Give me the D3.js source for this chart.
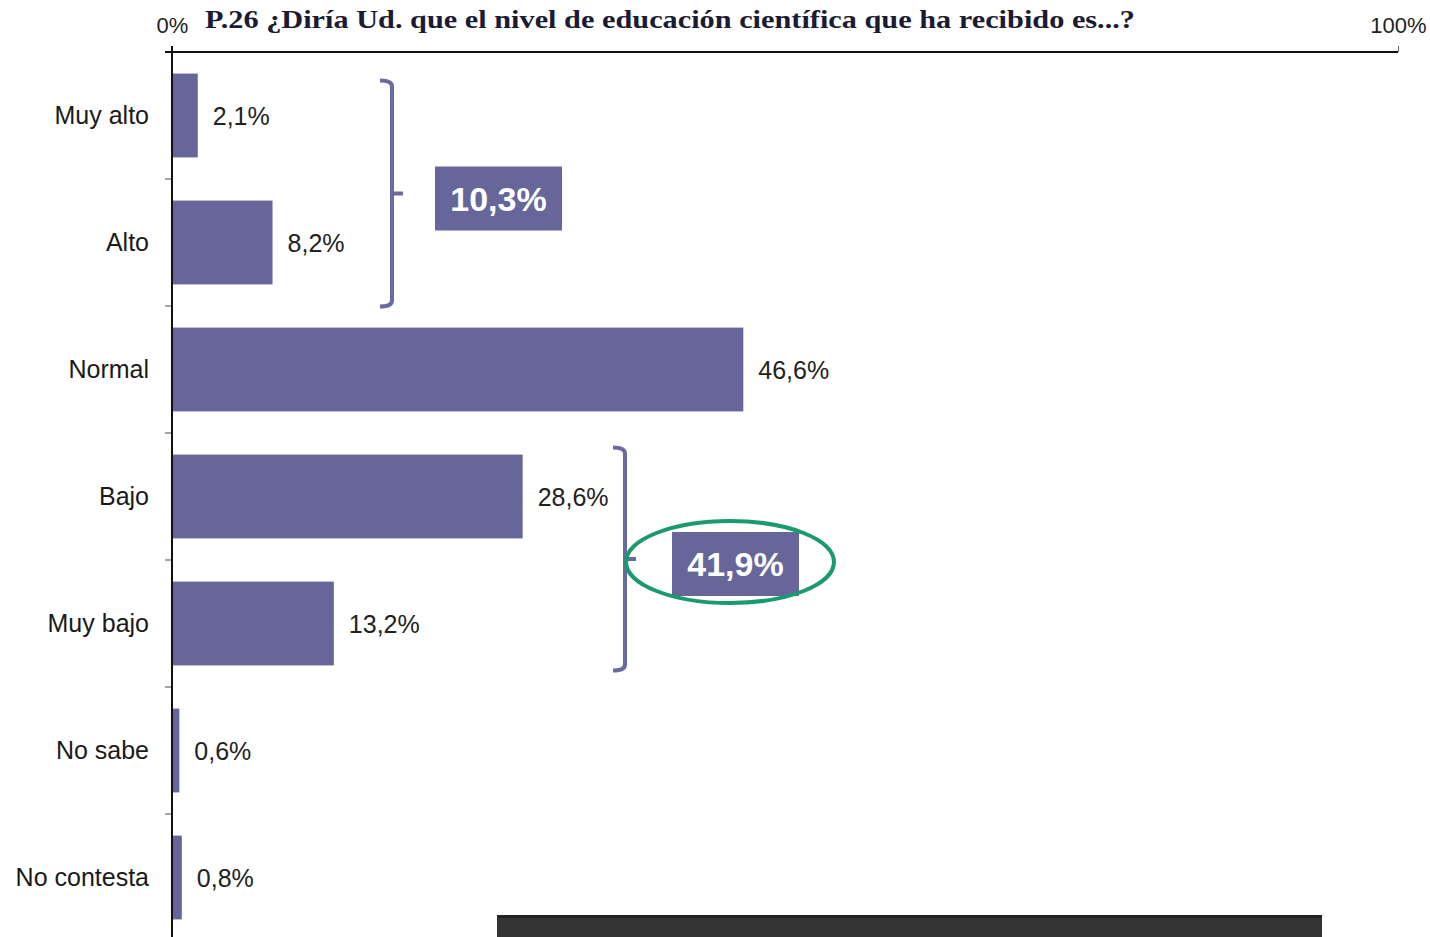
<!DOCTYPE html>
<html lang="es">
<head>
<meta charset="UTF-8">
<title>P.26</title>
<script src="https://cdn.jsdelivr.net/npm/d3@7"></script>
<style>
  body { margin: 0; background: #fff; }
  svg { display: block; }
</style>
</head>
<body>
<svg id="mainsvg" width="1430" height="937"></svg>
<script>
const categories = ["Muy alto", "Alto", "Normal", "Bajo", "Muy bajo", "No sabe", "No contesta"];
const values = [2.1, 8.2, 46.6, 28.6, 13.2, 0.6, 0.8];
const axisTicks = [0, 100];
const groupNames = [["Muy alto", "Alto"], ["Bajo", "Muy bajo"]];
const groupTotals = [10.3, 41.9];
const title = "P.26  ¿Diría Ud. que el nivel de educación científica que ha recibido es...?";

const fmt = v => v.toFixed(1).replace(".", ",") + "%";
const barColor = "#66669a";
const sans = "Liberation Sans, Arial, sans-serif";

const svg = d3.select("#mainsvg");
const margin = {top: 52, left: 172, right: 32};
const width = +svg.attr("width");

const x = d3.scaleLinear().domain([0, 100]).range([margin.left, width - margin.right]);
const y = d3.scaleBand().domain(categories).range([52, 941]).paddingInner(0.34).paddingOuter(0.17);

// bars
svg.selectAll("rect.bar").data(values).join("rect")
  .attr("class", "bar")
  .attr("x", x(0))
  .attr("y", (d, i) => y(categories[i]))
  .attr("width", d => x(d) - x(0))
  .attr("height", y.bandwidth())
  .attr("fill", barColor);

// value labels
svg.selectAll("text.val").data(values).join("text")
  .attr("class", "val")
  .attr("x", d => x(d) + 15)
  .attr("y", (d, i) => y(categories[i]) + y.bandwidth() / 2 + 9)
  .attr("font-family", sans)
  .attr("font-size", 25)
  .attr("fill", "#222")
  .text(d => fmt(d));

// category labels
svg.selectAll("text.cat").data(categories).join("text")
  .attr("class", "cat")
  .attr("x", 149)
  .attr("y", d => y(d) + y.bandwidth() / 2 + 8)
  .attr("text-anchor", "end")
  .attr("font-family", sans)
  .attr("font-size", 25)
  .attr("fill", "#1a1a1a")
  .text(d => d);

// small ticks between categories
svg.selectAll("line.sep").data(categories.slice(1)).join("line")
  .attr("class", "sep")
  .attr("x1", x(0) - 7).attr("x2", x(0))
  .attr("y1", d => y(d) - y.step() * 0.17)
  .attr("y2", d => y(d) - y.step() * 0.17)
  .attr("stroke", "#888").attr("stroke-width", 1.5);

// top axis
const xAxis = d3.axisTop(x).tickValues(axisTicks).tickFormat(d => d + "%").tickSize(6);
const ax = svg.append("g").attr("transform", `translate(0,${margin.top})`).call(xAxis);
ax.select(".domain").attr("d", `M${x(0) - 7},0H${x(100)}`).attr("stroke", "#111").attr("stroke-width", 2);
ax.selectAll(".tick line").attr("stroke", "#666");
ax.selectAll(".tick text")
  .attr("font-family", sans)
  .attr("font-size", 22).attr("fill", "#222")
  .attr("y", -19);

// left axis line
svg.append("line")
  .attr("x1", x(0)).attr("x2", x(0))
  .attr("y1", 46).attr("y2", 937)
  .attr("stroke", "#111").attr("stroke-width", 2);

// title
svg.append("text")
  .attr("x", 205).attr("y", 28)
  .attr("font-family", "Liberation Serif, DejaVu Serif, serif")
  .attr("font-weight", "bold")
  .attr("font-size", 26)
  .attr("fill", "#1b1b33")
  .attr("textLength", 930)
  .attr("lengthAdjust", "spacingAndGlyphs")
  .text(title);

// brackets with group totals
const bracketX = [392, 625];
const bracketPad = [[7, 22], [-7, 5]];
const boxX = [435, 672];

groupNames.forEach((grp, i) => {
  const top = y(grp[0]) + bracketPad[i][0];
  const bot = y(grp[grp.length - 1]) + y.bandwidth() + bracketPad[i][1];
  const mid = (top + bot) / 2;
  const bx = bracketX[i];
  const p = d3.path();
  p.moveTo(bx - 12, top);
  p.quadraticCurveTo(bx, top, bx, top + 6);
  p.lineTo(bx, bot - 6);
  p.quadraticCurveTo(bx, bot, bx - 12, bot);
  p.moveTo(bx, mid);
  p.lineTo(bx + 11, mid);
  svg.append("path").attr("d", p.toString())
    .attr("fill", "none").attr("stroke", "#6a6aa0").attr("stroke-width", 4);

  const bw = 127, bh = 64, cy = mid + 5;
  svg.append("rect")
    .attr("x", boxX[i]).attr("y", cy - bh / 2)
    .attr("width", bw).attr("height", bh)
    .attr("fill", barColor);
  svg.append("text")
    .attr("x", boxX[i] + bw / 2).attr("y", cy + 12)
    .attr("text-anchor", "middle")
    .attr("font-family", sans)
    .attr("font-weight", "bold")
    .attr("font-size", 34)
    .attr("fill", "#fff")
    .text(fmt(groupTotals[i]));

  if (i === 1) {
    svg.append("ellipse")
      .attr("cx", 730).attr("cy", mid + 3)
      .attr("rx", 104).attr("ry", 41)
      .attr("fill", "none")
      .attr("stroke", "#1a9a6e").attr("stroke-width", 4);
  }
});

// dark strip at the bottom edge
svg.append("rect")
  .attr("x", 497).attr("y", 915).attr("width", 825).attr("height", 22)
  .attr("fill", "#333");
svg.append("rect")
  .attr("x", 497).attr("y", 915).attr("width", 825).attr("height", 3)
  .attr("fill", "#222");
</script>
</body>
</html>
